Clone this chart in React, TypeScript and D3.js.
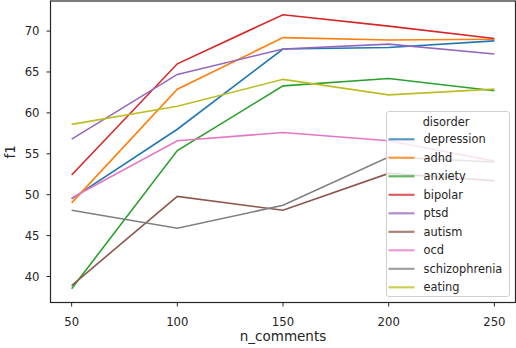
import React from 'react';
import * as d3 from 'd3';

const nComments = [50, 100, 150, 200, 250];
const disorders = ['depression', 'adhd', 'anxiety', 'bipolar', 'ptsd', 'autism', 'ocd', 'schizophrenia', 'eating'];
const colors = ['#1f77b4', '#ff7f0e', '#2ca02c', '#d62728', '#9467bd', '#8c564b', '#e377c2', '#7f7f7f', '#bcbd22'];

const depression = [49.5, 58.0, 67.8, 68.0, 68.8];
const adhd = [49.0, 62.9, 69.2, 68.9, 69.0];
const anxiety = [38.5, 55.4, 63.3, 64.2, 62.7];
const bipolar = [52.4, 66.0, 72.0, 70.6, 69.1];
const ptsd = [56.8, 64.7, 67.8, 68.4, 67.2];
const autism = [38.9, 49.8, 48.1, 52.6, 51.7];
const ocd = [49.6, 56.6, 57.6, 56.6, 54.1];
const schizophrenia = [48.1, 45.9, 48.7, 54.6, 54.0];
const eating = [58.6, 60.8, 64.1, 62.2, 62.9];

const series = [depression, adhd, anxiety, bipolar, ptsd, autism, ocd, schizophrenia, eating];
const xTicks = [50, 100, 150, 200, 250];
const yTicks = [40, 45, 50, 55, 60, 65, 70];

const W = 516;
const H = 348;
const margin = { top: 1, right: 0.5, bottom: 45.5, left: 50.5 };
const font = 'DejaVu Sans, sans-serif';
const ink = '#262626';

const App = () => {
    const x0 = margin.left;
    const x1 = W - margin.right;
    const y0 = margin.top;
    const y1 = H - margin.bottom;

    // matplotlib style 5% padding
    const xExt = d3.extent(nComments) as [number, number];
    const xPad = (xExt[1] - xExt[0]) * 0.05;
    const xScale = d3.scaleLinear().domain([xExt[0] - xPad, xExt[1] + xPad]).range([x0, x1]);

    const all = series.flat();
    const yExt = d3.extent(all) as [number, number];
    const yPad = (yExt[1] - yExt[0]) * 0.05;
    const yScale = d3.scaleLinear().domain([yExt[0] - yPad, yExt[1] + yPad]).range([y1, y0]);

    const line = d3.line<number>()
        .x((_, i) => xScale(nComments[i]))
        .y(d => yScale(d));

    // legend
    const lg = { x: 386.5, y: 111.5, w: 123, h: 185 };
    const rowH = 18.5;

    return (
        <svg width={W} height={H} style={{ position: 'absolute', left: 0, top: 0 }} fontFamily={font}>
            <rect x={0} y={0} width={W} height={H} fill="#fff" />

            {series.map((s, i) => (
                <path key={disorders[i]} d={line(s) || ''} fill="none" stroke={colors[i]} strokeWidth={1.6} />
            ))}

            {/* axes frame */}
            <rect x={x0} y={y0} width={x1 - x0} height={y1 - y0} fill="none" stroke={ink} strokeWidth={1.2} />

            {xTicks.map(t => (
                <g key={t} transform={`translate(${xScale(t)},${y1})`}>
                    <line y1={0} y2={4} stroke={ink} strokeWidth={1} />
                    <text y={23} textAnchor="middle" fontSize={11.7} fill={ink}>{t}</text>
                </g>
            ))}
            {yTicks.map(t => (
                <g key={t} transform={`translate(${x0},${yScale(t)})`}>
                    <line x1={0} x2={-4} stroke={ink} strokeWidth={1} />
                    <text x={-11} dy="0.36em" textAnchor="end" fontSize={11.7} fill={ink}>{t}</text>
                </g>
            ))}

            <text x={(x0 + x1) / 2} y={341} textAnchor="middle" fontSize={13.5} fill={ink}>n_comments</text>
            <text transform={`translate(15,${(y0 + y1) / 2}) rotate(-90)`} textAnchor="middle" fontSize={13.5} fill={ink}>f1</text>

            <g>
                <rect x={lg.x} y={lg.y} width={lg.w} height={lg.h} rx={2.5} fill="#fff" fillOpacity={0.8} stroke="#d0d0d0" strokeWidth={1} />
                <text x={lg.x + lg.w / 2 - 2} y={lg.y + 10} dy="0.36em" textAnchor="middle" fontSize={11.4} fill={ink}>disorder</text>
                {disorders.map((d, i) => {
                    const cy = lg.y + 27.8 + i * rowH;
                    return (
                        <g key={d}>
                            <line x1={388.5} x2={414.5} y1={cy} y2={cy} stroke={colors[i]} strokeWidth={2.2} strokeOpacity={0.75} />
                            <text x={423.5} y={cy} dy="0.36em" fontSize={11.4} fill={ink}>{d}</text>
                        </g>
                    );
                })}
            </g>
        </svg>
    );
};

export default App;
